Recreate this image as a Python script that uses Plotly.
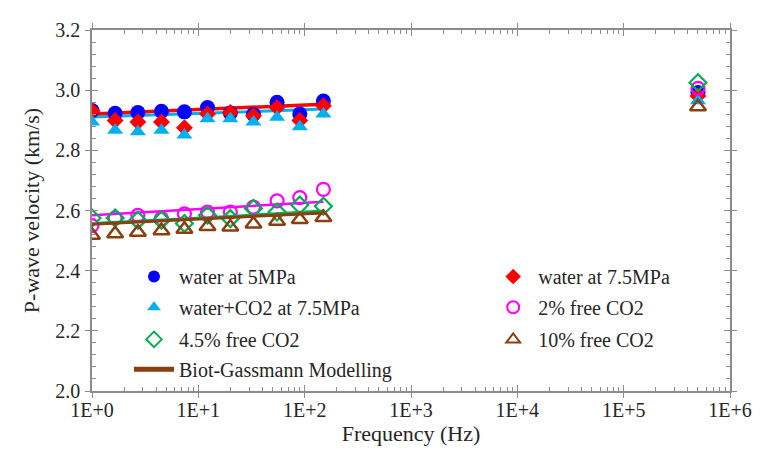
import plotly.graph_objects as go

# ---------------- data ----------------
freq = [1, 1.65, 2.7, 4.5, 7.4, 12.2, 20, 33, 55, 90, 150, 500000]

water_5mpa = [2.932, 2.923, 2.926, 2.930, 2.928, 2.942, 2.924, 2.919, 2.960, 2.921, 2.964, 2.992]
water_75mpa = [2.931, 2.899, 2.894, 2.894, 2.875, 2.921, 2.926, 2.915, 2.942, 2.899, 2.948, 2.981]
water_co2_75mpa = [2.894, 2.867, 2.862, 2.867, 2.851, 2.905, 2.905, 2.894, 2.910, 2.878, 2.921, 2.965]
free_co2_2 = [2.550, 2.575, 2.584, 2.573, 2.589, 2.595, 2.595, 2.611, 2.632, 2.643, 2.670, 3.006]
free_co2_45 = [2.575, 2.575, 2.568, 2.568, 2.557, 2.584, 2.573, 2.607, 2.595, 2.618, 2.614, 3.025]
free_co2_10 = [2.518, 2.523, 2.528, 2.533, 2.538, 2.547, 2.545, 2.555, 2.564, 2.570, 2.577, 2.945]

model_freq = [1, 12, 150]
model_water_75 = [2.921, 2.937, 2.953]
model_water_co2 = [2.911, 2.924, 2.937]
model_co2_2 = [2.584, 2.606, 2.629]
model_co2_45 = [2.557, 2.576, 2.598]
model_co2_10 = [2.554, 2.572, 2.592]

x_tickvals = [1, 10, 100, 1000, 10000, 100000, 1000000]
x_ticktext = ["1E+0", "1E+1", "1E+2", "1E+3", "1E+4", "1E+5", "1E+6"]
x_minor = [m * 10 ** d for d in range(6) for m in range(2, 10)]
y_tickvals = [2.0, 2.2, 2.4, 2.6, 2.8, 3.0, 3.2]
y_ticktext = ["2.0", "2.2", "2.4", "2.6", "2.8", "3.0", "3.2"]

# ---------------- style ----------------
BLUE = "#0000FF"
RED = "#FF0000"
CYAN = "#00B0F0"
MAGENTA = "#FF00FF"
GREEN = "#00B050"
BROWN = "#8B3E0F"
AX = "#8C8C8C"
TXT = "#262626"
FONT = "Liberation Serif"

fig = go.Figure()

# model lines (drawn first, beneath markers)
fig.add_trace(go.Scatter(x=model_freq, y=model_water_co2, mode="lines",
                         line=dict(color=CYAN, width=3), showlegend=False))
fig.add_trace(go.Scatter(x=model_freq, y=model_water_75, mode="lines",
                         line=dict(color=RED, width=3.5), showlegend=False))
fig.add_trace(go.Scatter(x=model_freq, y=model_co2_2, mode="lines",
                         line=dict(color=MAGENTA, width=2.5), showlegend=False))
fig.add_trace(go.Scatter(x=model_freq, y=model_co2_45, mode="lines",
                         line=dict(color=GREEN, width=3), showlegend=False))

# markers
fig.add_trace(go.Scatter(x=freq, y=water_5mpa, mode="markers", name="water at 5MPa",
                         marker=dict(symbol="circle", size=15, color=BLUE), legend="legend"))
fig.add_trace(go.Scatter(x=freq, y=water_75mpa, mode="markers", name="water at 7.5MPa",
                         marker=dict(symbol="diamond", size=13, color=RED), legend="legend2"))
fig.add_trace(go.Scatter(x=freq, y=water_co2_75mpa, mode="markers", name="water+CO2 at 7.5MPa",
                         marker=dict(symbol="triangle-up", size=14, color=CYAN), legend="legend3"))
fig.add_trace(go.Scatter(x=freq, y=free_co2_2, mode="markers", name="2% free CO2",
                         marker=dict(symbol="circle-open", size=13, color=MAGENTA, line=dict(width=2.2)),
                         legend="legend4"))
fig.add_trace(go.Scatter(x=freq, y=free_co2_45, mode="markers", name="4.5% free CO2",
                         marker=dict(symbol="diamond-open", size=13, color=GREEN, line=dict(width=2.2)),
                         legend="legend5"))
fig.add_trace(go.Scatter(x=freq, y=free_co2_10, mode="markers", name="10% free CO2",
                         marker=dict(symbol="triangle-up-open", size=14, color=BROWN, line=dict(width=2.5)),
                         legend="legend6"))
fig.add_trace(go.Scatter(x=model_freq, y=model_co2_10, mode="lines", name="Biot-Gassmann Modelling",
                         line=dict(color=BROWN, width=3), legend="legend7"))

# empty trace so the overlay axes (for crossing major ticks) exist
fig.add_trace(go.Scatter(x=[], y=[], xaxis="x2", yaxis="y2", showlegend=False))

axis_common = dict(showgrid=False, zeroline=False, showline=True, linecolor=AX, linewidth=1.5,
                   tickcolor=AX, tickwidth=1.2)

legend_common = dict(orientation="v", xanchor="left", yanchor="middle", itemwidth=40,
                     itemsizing="constant",
                     bgcolor="rgba(0,0,0,0)", font=dict(family=FONT, size=20, color=TXT),
                     itemclick=False, itemdoubleclick=False)

col1 = 0.058
col2 = 0.621
row_y = [0.317, 0.232, 0.143, 0.060]

# the page body has an 8px margin, so the figure is drawn 8px smaller
fig.update_layout(
    width=755, height=446,
    margin=dict(l=84, r=23, t=11, b=63),
    paper_bgcolor="white", plot_bgcolor="white",
    font=dict(family=FONT, size=20, color=TXT),
    xaxis=dict(type="log", range=[0, 6], tickvals=x_tickvals, ticktext=x_ticktext,
               ticks="inside", ticklen=6, mirror="ticks",
               minor=dict(tickvals=x_minor, ticks="inside", ticklen=4, tickcolor=AX, tickwidth=1),
               tickfont=dict(family=FONT, size=20, color=TXT),
               title=dict(text="Frequency (Hz)", font=dict(family=FONT, size=22, color=TXT), standoff=4),
               **axis_common),
    yaxis=dict(range=[2.0, 3.2], tickvals=y_tickvals, ticktext=y_ticktext,
               ticks="inside", ticklen=6, mirror="ticks", ticklabelstandoff=6,
               minor=dict(dtick=0.04, ticks="inside", ticklen=4, tickcolor=AX, tickwidth=1),
               tickfont=dict(family=FONT, size=20, color=TXT),
               title=dict(text="P-wave velocity (km/s)", font=dict(family=FONT, size=22, color=TXT), standoff=10),
               **axis_common),
    xaxis2=dict(type="log", range=[0, 6], overlaying="x", tickvals=x_tickvals, showticklabels=False,
                ticks="outside", ticklen=5, mirror="ticks", **axis_common),
    yaxis2=dict(range=[2.0, 3.2], overlaying="y", tickvals=y_tickvals, showticklabels=False,
                ticks="outside", ticklen=5, mirror="ticks", **axis_common),
    legend=dict(x=col1, y=row_y[0], **legend_common),
    legend2=dict(x=col2, y=row_y[0], **legend_common),
    legend3=dict(x=col1, y=row_y[1], **legend_common),
    legend4=dict(x=col2, y=row_y[1], **legend_common),
    legend5=dict(x=col1, y=row_y[2], **legend_common),
    legend6=dict(x=col2, y=row_y[2], **legend_common),
    legend7=dict(x=col1, y=row_y[3], **legend_common),
    showlegend=True,
)

fig.write_html("out.html")
